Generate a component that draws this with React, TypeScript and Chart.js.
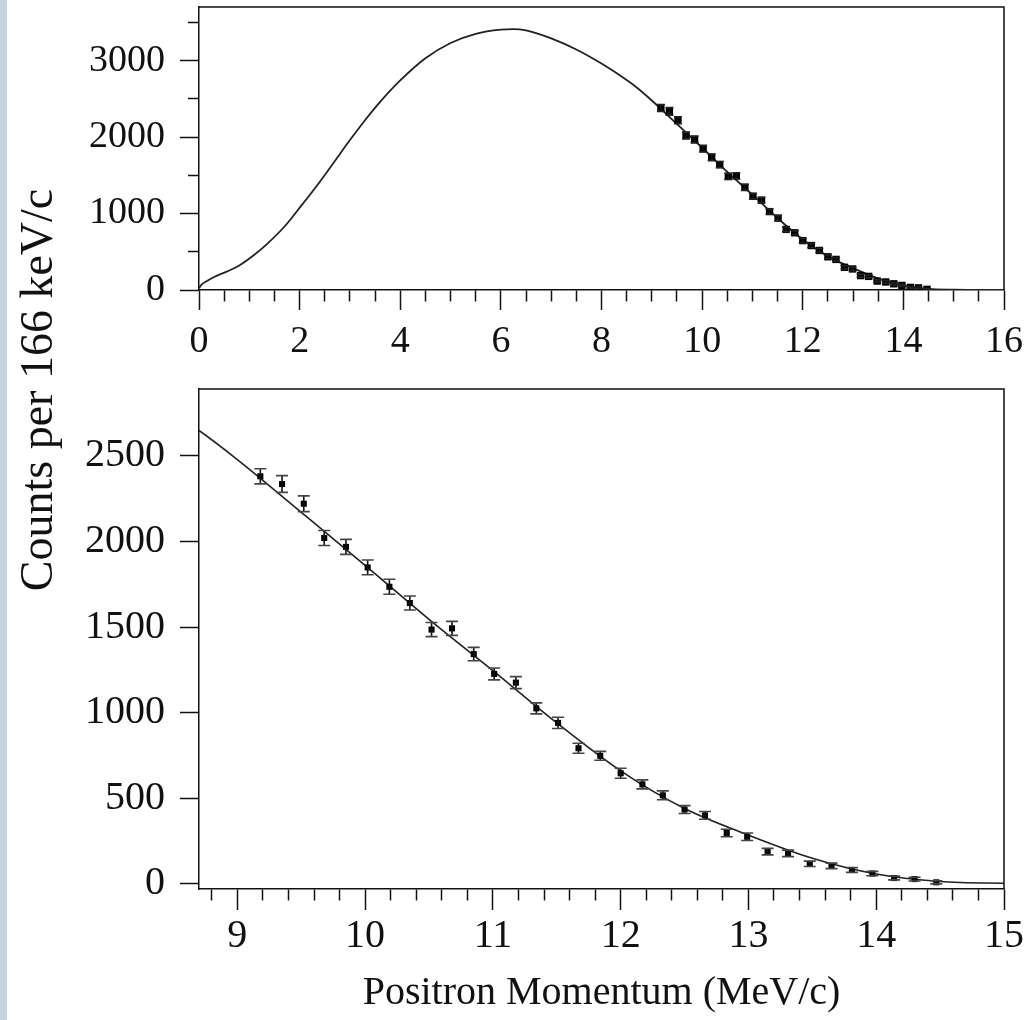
import React, { useEffect, useRef } from "react";
import { Chart, registerables } from "chart.js";

Chart.register(...registerables);

const FONT = "'Liberation Serif', 'Times New Roman', Times, serif";
const INK = "#111111";

// Fitted spectrum (solid curve)
const curveX = [0, 0.05, 0.15, 0.3, 0.55, 0.8, 1.1, 1.35, 1.7, 2.0, 2.35, 2.65, 3.0, 3.3, 3.6, 4.0, 4.5, 5.0, 5.5, 6.0, 6.25, 6.5, 7.0, 7.5, 8.0, 8.5, 8.7, 9.0, 9.5, 10.0, 10.5, 11.0, 11.5, 12.0, 12.5, 13.0, 13.5, 14.0, 14.5, 15.0, 15.5, 16.0];
const curveY = [25, 70, 115, 170, 240, 320, 460, 600, 830, 1075, 1370, 1640, 1960, 2220, 2460, 2740, 3030, 3230, 3350, 3405, 3412, 3395, 3290, 3145, 2960, 2745, 2648, 2478, 2170, 1860, 1545, 1245, 940, 660, 440, 285, 150, 58, 14, 4, 1, 0];

// Measured counts with error bars
const dataX = [9.18, 9.35, 9.52, 9.68, 9.85, 10.02, 10.19, 10.35, 10.52, 10.68, 10.85, 11.01, 11.18, 11.34, 11.51, 11.67, 11.84, 12.0, 12.17, 12.33, 12.5, 12.66, 12.83, 12.99, 13.15, 13.31, 13.48, 13.65, 13.81, 13.97, 14.14, 14.3, 14.47];
const dataY = [2380, 2335, 2220, 2020, 1968, 1848, 1735, 1640, 1485, 1492, 1342, 1226, 1175, 1025, 940, 792, 748, 646, 581, 517, 434, 400, 297, 275, 188, 178, 117, 105, 81, 60, 34, 28, 9];
const dataErr = [44, 49, 46, 44, 44, 43, 44, 41, 41, 41, 39, 35, 35, 32, 33, 29, 26, 29, 26, 26, 23, 23, 22, 22, 19, 19, 16, 16, 14, 13, 11, 11, 9];

// Tick labels
const topXMajor = [0, 2, 4, 6, 8, 10, 12, 14, 16];
const topYMajor = [0, 1000, 2000, 3000];
const botXMajor = [9, 10, 11, 12, 13, 14, 15];
const botYMajor = [0, 500, 1000, 1500, 2000, 2500];

const steps = (a: number, b: number, s: number) => {
  const out: number[] = [];
  for (let i = 0; a + i * s <= b + 1e-9; i++) out.push(Math.round((a + i * s) * 1000) / 1000);
  return out;
};
const topXAll = steps(0, 16, 0.5);
const topYAll = steps(0, 3500, 500);
const botXAll = steps(8.8, 15, 0.2);
const botYAll = botYMajor;

const Y_TITLE = "Counts per 166 keV/c";
const X_TITLE = "Positron Momentum (MeV/c)";

function axis(opts: {
  all: number[];
  major: number[];
  majorLen: number;
  minorLen: number;
  side: "bottom" | "left";
  min: number;
  max: number;
  size: number;
  fontSize: number;
  padding: number;
  title?: any;
}) {
  const isMajor = (v: any) => opts.major.some((m) => Math.abs(m - Number(v)) < 1e-6);
  return {
    type: "linear",
    position: opts.side,
    min: opts.min,
    max: opts.max,
    afterBuildTicks: (s: any) => {
      s.ticks = opts.all.map((v) => ({ value: v }));
    },
    afterFit: (s: any) => {
      if (opts.side === "left") s.width = opts.size;
      else s.height = opts.size;
      s.paddingLeft = 0;
      s.paddingRight = 0;
      s.paddingTop = 0;
      s.paddingBottom = 0;
    },
    ticks: {
      autoSkip: false,
      maxRotation: 0,
      minRotation: 0,
      padding: opts.padding,
      color: INK,
      font: { family: FONT, size: opts.fontSize },
      callback: (v: any) => (isMajor(v) ? String(v) : ""),
    },
    grid: {
      display: true,
      drawOnChartArea: false,
      drawTicks: true,
      tickLength: opts.majorLen,
      tickWidth: 1.5,
      tickColor: INK,
      tickBorderDash: (ctx: any) => {
        const v = ctx.tick ? ctx.tick.value : 0;
        if (isMajor(v)) return [];
        return opts.side === "bottom"
          ? [opts.minorLen, 1000]
          : [0, opts.majorLen - opts.minorLen, opts.minorLen, 1000];
      },
    },
    border: { display: true, color: INK, width: 1.5 },
    title: opts.title || { display: false },
  };
}

const errorBarPlugin = {
  id: "errbars",
  afterDatasetsDraw(chart: any, _args: any, o: any) {
    const { ctx, chartArea } = chart;
    const x = chart.scales.x;
    const y = chart.scales.y;
    ctx.save();
    ctx.beginPath();
    ctx.rect(chartArea.left, chartArea.top, chartArea.right - chartArea.left, chartArea.bottom - chartArea.top);
    ctx.clip();
    for (let i = 0; i < dataX.length; i++) {
      const px = x.getPixelForValue(dataX[i]);
      const pt = y.getPixelForValue(dataY[i] + dataErr[i]);
      const pb = y.getPixelForValue(dataY[i] - dataErr[i]);
      ctx.strokeStyle = INK;
      ctx.lineWidth = o.width;
      ctx.beginPath();
      ctx.moveTo(px, pt);
      ctx.lineTo(px, pb);
      ctx.stroke();
      ctx.strokeStyle = o.capColor;
      ctx.lineWidth = o.capWidth;
      ctx.beginPath();
      ctx.moveTo(px - o.cap / 2, pt);
      ctx.lineTo(px + o.cap / 2, pt);
      ctx.moveTo(px - o.cap / 2, pb);
      ctx.lineTo(px + o.cap / 2, pb);
      ctx.stroke();
    }
    ctx.restore();
  },
};

const framePlugin = {
  id: "frame",
  afterDraw(chart: any, _args: any, o: any) {
    const { ctx, chartArea } = chart;
    ctx.save();
    ctx.strokeStyle = INK;
    ctx.lineWidth = 1.5;
    ctx.beginPath();
    ctx.moveTo(chartArea.left, chartArea.top);
    ctx.lineTo(chartArea.right, chartArea.top);
    ctx.lineTo(chartArea.right, chartArea.bottom);
    ctx.stroke();
    if (o && o.yTitle) {
      ctx.fillStyle = INK;
      ctx.font = `${o.yTitleSize}px ${FONT}`;
      ctx.textAlign = "center";
      ctx.textBaseline = "middle";
      ctx.translate(o.yTitleX, o.yTitleY);
      ctx.rotate(-Math.PI / 2);
      ctx.fillText(o.yTitle, 0, 0);
    }
    ctx.restore();
  },
};

function datasets(pointRadius: number, lineWidth: number) {
  return [
    {
      type: "line",
      data: curveX.map((x, i) => ({ x, y: curveY[i] })),
      borderColor: "#222222",
      borderWidth: lineWidth,
      pointRadius: 0,
      cubicInterpolationMode: "monotone",
      fill: false,
      order: 2,
    },
    {
      type: "scatter",
      data: dataX.map((x, i) => ({ x, y: dataY[i] })),
      showLine: false,
      pointStyle: "rect",
      pointRadius,
      backgroundColor: "#000000",
      borderColor: "#000000",
      borderWidth: 0,
      order: 1,
    },
  ];
}

export default function App() {
  const topRef = useRef<HTMLCanvasElement | null>(null);
  const botRef = useRef<HTMLCanvasElement | null>(null);

  useEffect(() => {
    const top = new Chart(topRef.current as HTMLCanvasElement, {
      type: "scatter",
      data: { datasets: datasets(5.2, 1.8) as any },
      options: {
        responsive: false,
        animation: false,
        devicePixelRatio: 1,
        layout: { padding: { left: 0, right: 23, top: 7, bottom: 0 } },
        plugins: {
          legend: { display: false },
          tooltip: { enabled: false },
          errbars: { cap: 8, width: 1.6, capWidth: 1.6, capColor: "#222222" },
          frame: {},
        } as any,
        scales: {
          x: axis({ all: topXAll, major: topXMajor, majorLen: 20, minorLen: 11, side: "bottom", min: 0, max: 16, size: 80, fontSize: 38, padding: 9 }) as any,
          y: axis({ all: topYAll, major: topYMajor, majorLen: 19, minorLen: 11, side: "left", min: 0, max: 3700, size: 199, fontSize: 38, padding: 15 }) as any,
        },
      },
      plugins: [errorBarPlugin, framePlugin],
    } as any);

    const bot = new Chart(botRef.current as HTMLCanvasElement, {
      type: "scatter",
      data: { datasets: datasets(4.3, 1.6) as any },
      options: {
        responsive: false,
        animation: false,
        devicePixelRatio: 1,
        layout: { padding: { left: 0, right: 23, top: 389, bottom: 0 } },
        plugins: {
          legend: { display: false },
          tooltip: { enabled: false },
          errbars: { cap: 12, width: 1.6, capWidth: 1.6, capColor: "#444444" },
          frame: { yTitle: Y_TITLE, yTitleX: 40, yTitleY: 390, yTitleSize: 46 },
        } as any,
        scales: {
          x: axis({
            all: botXAll, major: botXMajor, majorLen: 21, minorLen: 11, side: "bottom", min: 8.7, max: 15, size: 131, fontSize: 40, padding: 2,
            title: { display: true, text: X_TITLE, color: INK, font: { family: FONT, size: 40 }, padding: { top: 0, bottom: 3 } },
          }) as any,
          y: axis({ all: botYAll, major: botYMajor, majorLen: 19, minorLen: 19, side: "left", min: -30, max: 2890, size: 199, fontSize: 40, padding: 15 }) as any,
        },
      },
      plugins: [errorBarPlugin, framePlugin],
    } as any);

    return () => {
      top.destroy();
      bot.destroy();
    };
  }, []);

  return (
    <div style={{ position: "fixed", left: 0, top: 0, width: 1027, height: 1020, background: "#ffffff", overflow: "hidden" }}>
      <canvas ref={botRef} width={1027} height={1020} style={{ position: "absolute", left: 0, top: 0, width: 1027, height: 1020 }} />
      <canvas ref={topRef} width={1027} height={370} style={{ position: "absolute", left: 0, top: 0, width: 1027, height: 370 }} />
      <div style={{ position: "absolute", left: 0, top: 0, width: 7, height: 1020, background: "#c8d2da" }} />
    </div>
  );
}
